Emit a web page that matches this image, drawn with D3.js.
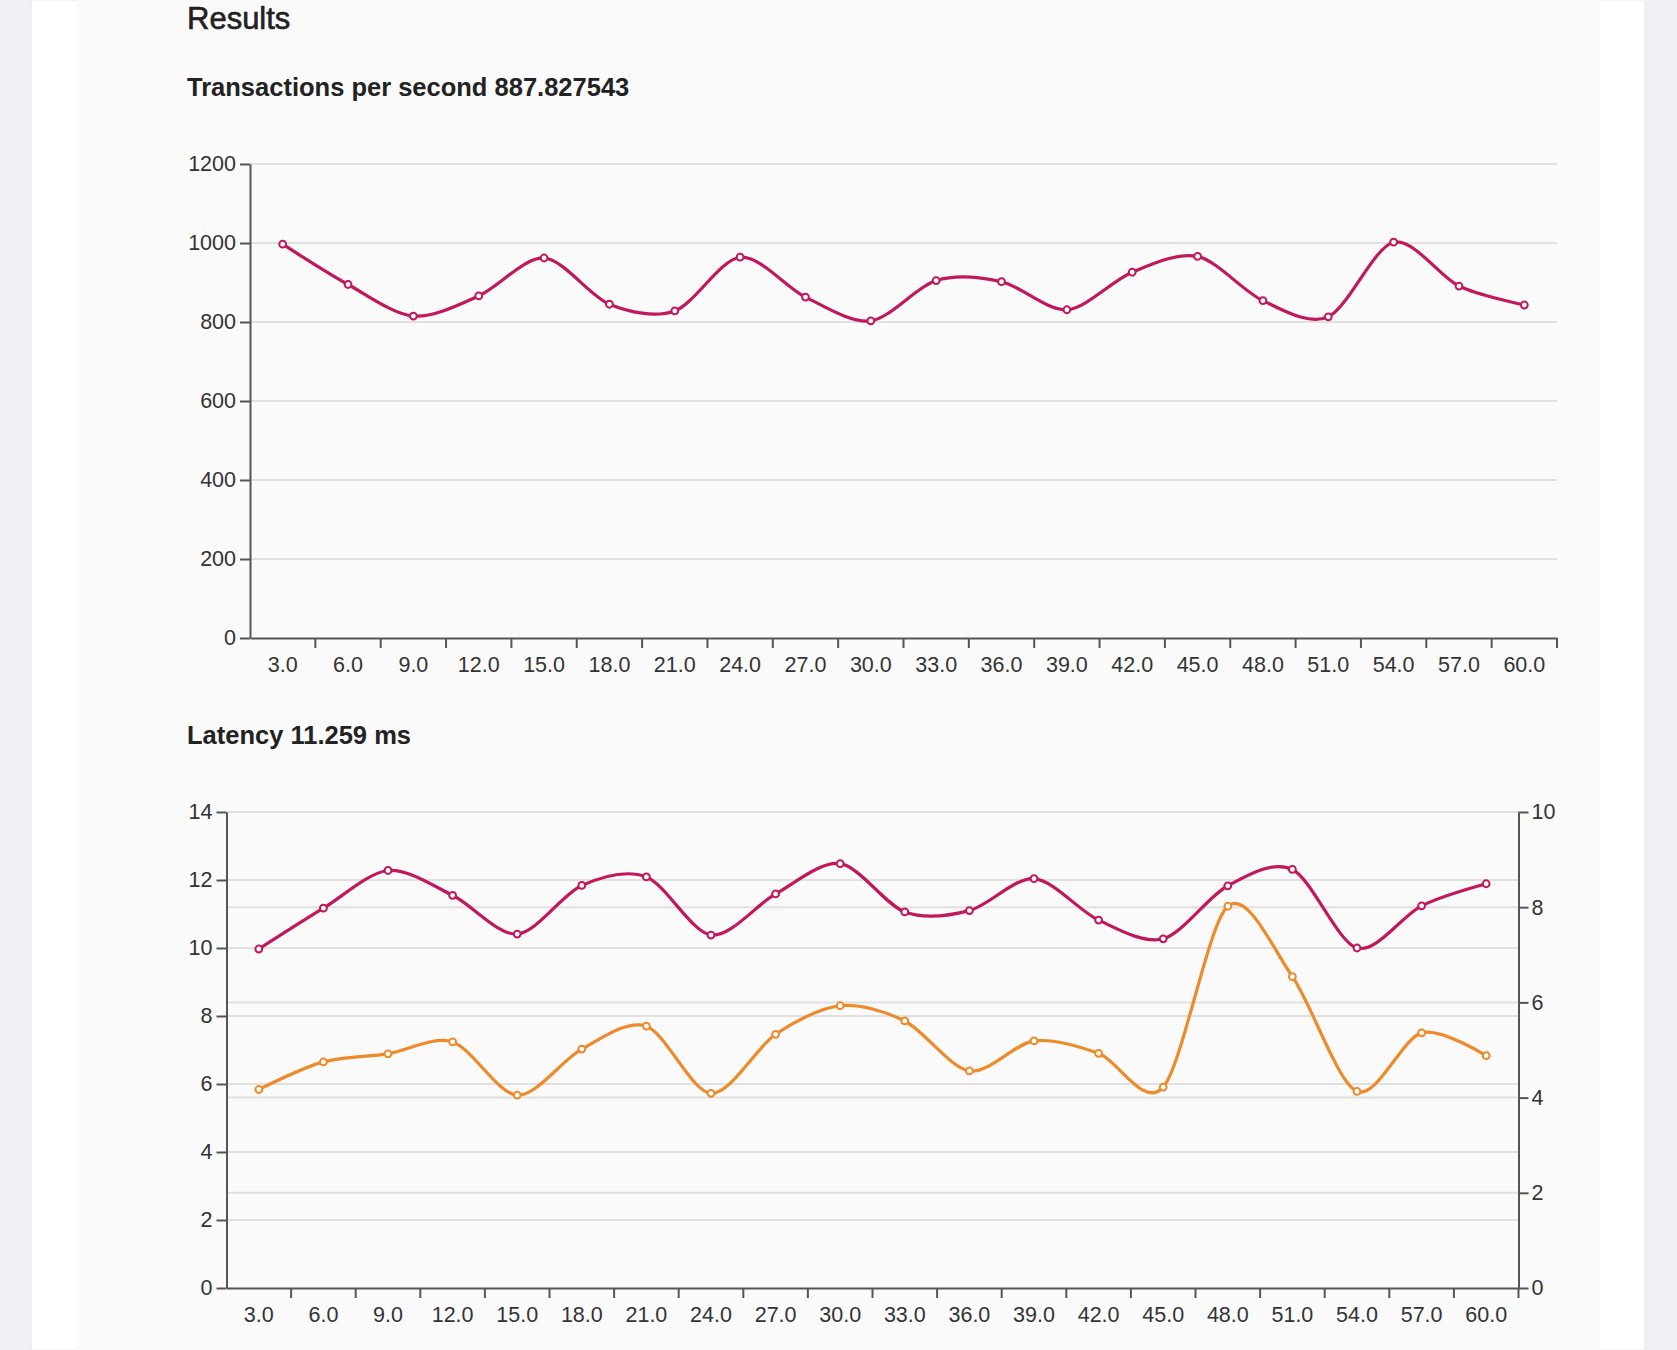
<!DOCTYPE html>
<html>
<head>
<meta charset="utf-8">
<script src="https://cdn.jsdelivr.net/npm/d3@7"></script>
<style>
body { margin: 0; overflow: hidden; background: #fff; }
svg { display: block; font-family: "Liberation Sans", Arial, sans-serif; }
.axis path, .axis line { stroke: #555; stroke-width: 2; }
.axis text { fill: #333; font-size: 21.5px; font-family: "Liberation Sans", Arial, sans-serif; }
.grid line { stroke: #e0e0e0; stroke-width: 2; }
.title { fill: #222; }
</style>
</head>
<body>
<svg id="page"></svg>
<script>
// categories (seconds) shared by both charts
const categories = ["3.0", "6.0", "9.0", "12.0", "15.0", "18.0", "21.0", "24.0", "27.0", "30.0",
	"33.0", "36.0", "39.0", "42.0", "45.0", "48.0", "51.0", "54.0", "57.0", "60.0"];

// transactions per second
const tpsValues = [997, 895, 815, 866, 962, 845, 828, 964, 863, 803,
	905, 902, 831, 926, 966, 854, 813, 1002, 891, 843];
const tpsTicks = [0, 200, 400, 600, 800, 1000, 1200];

// latency, left axis (red) and right axis (orange)
const latencyValues = [9.97, 11.17, 12.28, 11.55, 10.41, 11.84, 12.09, 10.38, 11.59, 12.48,
	11.06, 11.10, 12.04, 10.82, 10.27, 11.83, 12.31, 10.00, 11.24, 11.89];
const latencyY2Values = [4.17, 4.75, 4.92, 5.17, 4.05, 5.02, 5.50, 4.09, 5.33, 5.93,
	5.61, 4.56, 5.19, 4.93, 4.22, 8.02, 6.54, 4.13, 5.36, 4.88];
const latencyTicks = [0, 2, 4, 6, 8, 10, 12, 14];
const latencyY2Ticks = [0, 2, 4, 6, 8, 10];

const red = "#c2185b";
const orange = "#ee8a2a";

const W = 1677, H = 1350;

const svg = d3.select("#page").attr("width", W).attr("height", H);

// page background: grey sides, white gutter, light panel
svg.append("rect").attr("width", W).attr("height", H).attr("fill", "#eff1f5");
svg.append("rect").attr("x", 31).attr("width", 1614).attr("height", H)
	.attr("fill", "#fff").attr("stroke", "#e4e6eb").attr("stroke-width", 1);
svg.append("rect").attr("x", 77).attr("width", 1523).attr("height", H).attr("fill", "#fafafa");

svg.append("text").attr("class", "title")
	.attr("x", 187).attr("y", 29)
	.attr("font-size", 31)
	.attr("stroke", "#222").attr("stroke-width", 0.6)
	.text("Results");

svg.append("text").attr("class", "title")
	.attr("x", 187).attr("y", 96)
	.attr("font-size", 25.5).attr("font-weight", "bold")
	.text("Transactions per second 887.827543");

svg.append("text").attr("class", "title")
	.attr("x", 187).attr("y", 744)
	.attr("font-size", 25.5).attr("font-weight", "bold")
	.text("Latency 11.259 ms");

function drawChart(opts) {
	const g = svg.append("g");

	const x = d3.scaleBand()
		.domain(categories)
		.range([opts.left, opts.right])
		.padding(0);
	const bw = x.bandwidth();

	const y = d3.scaleLinear()
		.domain([0, d3.max(opts.yTicks)])
		.range([opts.bottom, opts.top]);

	let y2 = null;
	if (opts.y2Ticks) {
		y2 = d3.scaleLinear()
			.domain([0, d3.max(opts.y2Ticks)])
			.range([opts.bottom, opts.top]);
	}

	// grid lines
	const grid = g.append("g").attr("class", "grid");
	grid.selectAll(".gy")
		.data(opts.yTicks.filter((d) => d > 0))
		.join("line")
		.attr("class", "gy")
		.attr("x1", opts.left).attr("x2", opts.right)
		.attr("y1", (d) => y(d)).attr("y2", (d) => y(d));
	if (y2) {
		grid.selectAll(".gy2")
			.data(opts.y2Ticks.filter((d) => d > 0))
			.join("line")
			.attr("class", "gy2")
			.attr("x1", opts.left).attr("x2", opts.right)
			.attr("y1", (d) => y2(d)).attr("y2", (d) => y2(d));
	}

	// x axis, ticks on band edges, labels on centres
	const xAxis = g.append("g")
		.attr("class", "axis x")
		.attr("transform", `translate(0, ${opts.bottom})`)
		.call(d3.axisBottom(x).tickSize(10).tickSizeOuter(0).tickPadding(9));
	xAxis.selectAll(".tick line").attr("x1", bw / 2).attr("x2", bw / 2);

	// y axis
	g.append("g")
		.attr("class", "axis y")
		.attr("transform", `translate(${opts.left}, 0)`)
		.call(d3.axisLeft(y).tickValues(opts.yTicks).tickFormat(d3.format("d"))
			.tickSize(10).tickSizeOuter(0).tickPadding(4));

	if (y2) {
		g.append("g")
			.attr("class", "axis y2")
			.attr("transform", `translate(${opts.right}, 0)`)
			.call(d3.axisRight(y2).tickValues(opts.y2Ticks).tickFormat(d3.format("d"))
				.tickSize(10).tickSizeOuter(0).tickPadding(3));
	}

	// series
	opts.series.forEach((s) => {
		const scale = s.axis === "y2" ? y2 : y;
		const line = d3.line()
			.x((d, i) => x(categories[i]) + bw / 2)
			.y((d) => scale(d))
			.curve(d3.curveCardinal.tension(0.1));

		g.append("path")
			.datum(s.values)
			.attr("fill", "none")
			.attr("stroke", s.color)
			.attr("stroke-width", 3.2)
			.attr("d", line);

		g.append("g")
			.selectAll("circle")
			.data(s.values)
			.join("circle")
			.attr("cx", (d, i) => x(categories[i]) + bw / 2)
			.attr("cy", (d) => scale(d))
			.attr("r", 3.4)
			.attr("fill", "#fff")
			.attr("stroke", s.color)
			.attr("stroke-width", 2);
	});
}

drawChart({
	left: 250, right: 1557, top: 164, bottom: 638,
	yTicks: tpsTicks,
	series: [{ values: tpsValues, color: red, axis: "y" }]
});

drawChart({
	left: 226.5, right: 1518.5, top: 812, bottom: 1288,
	yTicks: latencyTicks,
	y2Ticks: latencyY2Ticks,
	series: [
		{ values: latencyValues, color: red, axis: "y" },
		{ values: latencyY2Values, color: orange, axis: "y2" }
	]
});
</script>
</body>
</html>
